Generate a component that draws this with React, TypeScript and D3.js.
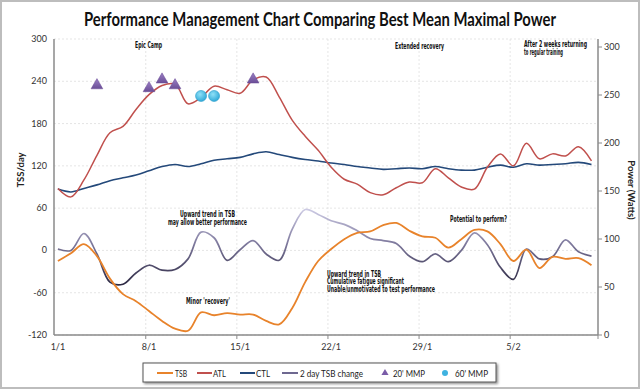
import React from "react";
import * as d3 from "d3";

const dayLabels = ["1/1","8/1","15/1","22/1","29/1","5/2"];
const dayTicks = [0, 7, 14, 21, 28, 35];
const leftTicks = [-120, -60, 0, 60, 120, 180, 240, 300];
const rightTicks = [0, 50, 100, 150, 200, 250, 300];

const tsb = [-15,-4,9,-8,-40,-62,-72,-86,-100,-111,-114,-88,-92,-89,-91,-91,-100,-105,-82,-45,-15,2,16,25,27,36,39,28,20,18,4,16,29,27,9,-15,1,-25,-9,-12,-11,-21];
const atl = [88,76,100,135,167,176,200,221,234,236,208,217,233,228,223,242,246,218,185,162,142,118,101,94,82,79,89,97,96,116,103,90,87,118,137,120,152,130,137,134,147,127];
const ctl = [87,83,88,93,99,103,107,113,119,122,119,123,128,130,132,137,140,136,132,129,127,124,122,119,117,115,116,117,116,119,116,114,114,118,121,118,123,121,122,123,125,122];
const tsbChange = [2,0,24,-5,-45,-48,-32,-21,-28,-27,-12,26,18,-14,1,14,-5,-14,30,58,51,42,37,28,17,14,10,-8,-16,-5,-16,0,25,8,-24,-41,2,-12,-9,15,-2,-8];
const mmp20Days = [3, 7, 8, 9, 15];
const mmp20Watts = [260, 257, 266, 260, 266];
const mmp60Days = [11, 12];
const mmp60Watts = [249, 249];

const legendItems = ["TSB", "ATL", "CTL", "2 day TSB change", "20' MMP", "60' MMP"];

const W = 640, H = 390;
const x = d3.scaleLinear().domain([-0.3, 41.5]).range([54, 598]);
const yL = d3.scaleLinear().domain([-120, 300]).range([335, 39]);
const yR = d3.scaleLinear().domain([0, 300]).range([335, 47]);

const C = {
  tsb: "#e8832b",
  atl: "#c0504d",
  ctl: "#24497a",
};

const line = (vals: number[]) =>
  d3.line<number>().x((_, i) => x(i)).y((v) => yL(v)).curve(d3.curveCatmullRom.alpha(0.5))(vals) || "";

const annFont = "'Liberation Sans Narrow', 'DejaVu Sans Condensed', 'Roboto', sans-serif";
const mainFont = "Lato, 'Open Sans', sans-serif";

type Ann = { t: string; x: number; y: number; w: number };
const annotations: Ann[] = [
  { t: "Epic Camp", x: 135, y: 48, w: 27 },
  { t: "Extended recovery", x: 395, y: 49, w: 49 },
  { t: "After 2 weeks returning", x: 524, y: 47, w: 63 },
  { t: "to regular training", x: 524, y: 55, w: 39 },
  { t: "Upward trend in TSB", x: 180, y: 217, w: 55 },
  { t: "may allow better performance", x: 168, y: 225, w: 79 },
  { t: "Minor 'recovery'", x: 186, y: 304, w: 44 },
  { t: "Upward trend in TSB", x: 327, y: 276.5, w: 54 },
  { t: "Cumulative fatigue significant", x: 327, y: 284, w: 77 },
  { t: "Unable/unmotivated to test performance", x: 327, y: 291.5, w: 108 },
  { t: "Potential to perform?", x: 450, y: 222, w: 57 },
];

export default function App() {
  const tri = d3.symbol().type(d3.symbolTriangle).size(60)() || "";
  const legendTextW = [12, 13, 14, 63, 32, 33];
  const legendTextX = [175, 213, 256, 300, 393, 455];
  return (
    <svg width={W} height={H} style={{ position: "absolute", left: 0, top: 0, background: "#fff" }} fontFamily={mainFont}>
      <defs>
        <linearGradient id="chg" gradientUnits="userSpaceOnUse" x1="0" y1={yL(60)} x2="0" y2={yL(-50)}>
          <stop offset="0" stopColor="#cfcde6" />
          <stop offset="0.45" stopColor="#7f7a9e" />
          <stop offset="1" stopColor="#2a2640" />
        </linearGradient>
        <linearGradient id="trig" x1="0" y1="0" x2="0" y2="1">
          <stop offset="0" stopColor="#9a7fc4" />
          <stop offset="1" stopColor="#6a4d96" />
        </linearGradient>
        <radialGradient id="circg" cx="0.4" cy="0.35" r="0.7">
          <stop offset="0" stopColor="#8fe0f7" />
          <stop offset="1" stopColor="#2aa6d6" />
        </radialGradient>
        <filter id="shadow" x="-5%" y="-30%" width="110%" height="170%">
          <feDropShadow dx="1.5" dy="1.5" stdDeviation="1" floodColor="#000" floodOpacity="0.45" />
        </filter>
      </defs>
      <rect x={1} y={1} width={W - 2} height={H - 3} fill="#fff" stroke="#bdbdbd" strokeWidth={2} />

      <text x={320} y={26} textAnchor="middle" fontSize={18} fontWeight={700} fill="#111" textLength={472} lengthAdjust="spacingAndGlyphs">
        Performance Management Chart Comparing Best Mean Maximal Power
      </text>

      {/* grid */}
      {leftTicks.map((t) => (
        <line key={"hg" + t} x1={54} x2={598} y1={yL(t)} y2={yL(t)} stroke="#dedede" strokeDasharray="2,2" strokeWidth={0.8} />
      ))}
      {dayTicks.slice(1).map((d) => (
        <line key={"vg" + d} x1={x(d - 0.25)} x2={x(d - 0.25)} y1={39} y2={335} stroke="#dedede" strokeDasharray="2,2" strokeWidth={0.8} />
      ))}

      {/* axes */}
      <line x1={54} x2={54} y1={39} y2={335} stroke="#8a8a8a" strokeWidth={1.5} />
      <line x1={598} x2={598} y1={39} y2={335} stroke="#8a8a8a" strokeWidth={1.5} />
      <line x1={54} x2={598} y1={335} y2={335} stroke="#8a8a8a" strokeWidth={1.5} />
      {rightTicks.map((t) => (
        <line key={"rt" + t} x1={598} x2={602} y1={yR(t)} y2={yR(t)} stroke="#8a8a8a" strokeWidth={1} />
      ))}
      {dayTicks.slice(1).map((d) => (
        <line key={"bt" + d} x1={x(d - 0.25)} x2={x(d - 0.25)} y1={335} y2={339} stroke="#8a8a8a" strokeWidth={1} />
      ))}
      <line x1={598} x2={598} y1={335} y2={339} stroke="#8a8a8a" strokeWidth={1} />

      {leftTicks.map((t) => (
        <text key={"lt" + t} x={47} y={yL(t) + 3} textAnchor="end" fontSize={9} fill="#333">{t}</text>
      ))}
      {rightTicks.map((t) => (
        <text key={"rl" + t} x={604} y={yR(t) + 3} fontSize={9} fill="#333">{t}</text>
      ))}
      {dayTicks.map((d, i) => (
        <text key={"xl" + d} x={x(d)} y={350} textAnchor="middle" fontSize={9} fill="#333">{dayLabels[i]}</text>
      ))}
      <text transform={`translate(24,170) rotate(-90)`} textAnchor="middle" fontSize={9.5} fontWeight={700} fill="#222">TSS/day</text>
      <text transform={`translate(628,190) rotate(90)`} textAnchor="middle" fontSize={9.5} fontWeight={700} fill="#222">Power (Watts)</text>

      {/* series */}
      <path d={line(ctl)} fill="none" stroke={C.ctl} strokeWidth={1.6} />
      <path d={line(atl)} fill="none" stroke={C.atl} strokeWidth={1.5} />
      <path d={line(tsbChange)} fill="none" stroke="url(#chg)" strokeWidth={1.7} />
      <path d={line(tsb)} fill="none" stroke={C.tsb} strokeWidth={1.8} />

      {mmp20Days.map((d, i) => (
        <path key={"tr" + i} d={tri} transform={`translate(${x(d)},${yR(mmp20Watts[i])})`} fill="url(#trig)" stroke="#6a4d96" strokeWidth={0.5} />
      ))}
      {mmp60Days.map((d, i) => (
        <circle key={"ci" + i} cx={x(d)} cy={yR(mmp60Watts[i])} r={5.5} fill="url(#circg)" stroke="#2a9cca" strokeWidth={0.6} />
      ))}

      {/* annotations */}
      <g fontFamily={annFont} fontSize={8} fill="#111" fontWeight={700}>
        {annotations.map((a, i) => (
          <text key={"an" + i} x={a.x} y={a.y} textLength={a.w} lengthAdjust="spacingAndGlyphs">{a.t}</text>
        ))}
      </g>

      {/* legend */}
      <g>
        <rect x={143} y={363} width={353} height={19} fill="#fff" stroke="#555" strokeWidth={1} filter="url(#shadow)" />
        <g fontSize={9.5} fill="#222">
          <line x1={157} x2={173} y1={373} y2={373} stroke={C.tsb} strokeWidth={2} />
          <line x1={197} x2={212} y1={373} y2={373} stroke={C.atl} strokeWidth={2} />
          <line x1={240} x2={255} y1={373} y2={373} stroke={C.ctl} strokeWidth={2} />
          <line x1={282} x2={298} y1={373} y2={373} stroke="#6e6890" strokeWidth={2} />
          <path d={d3.symbol().type(d3.symbolTriangle).size(22)() || ""} transform="translate(385,373)" fill="#7a5ca8" />
          <circle cx={445} cy={373} r={3} fill="#3fb2e0" />
          {legendItems.map((s, i) => (
            <text key={"lg" + i} x={legendTextX[i]} y={376.5} textLength={legendTextW[i]} lengthAdjust="spacingAndGlyphs">{s}</text>
          ))}
        </g>
      </g>
    </svg>
  );
}
